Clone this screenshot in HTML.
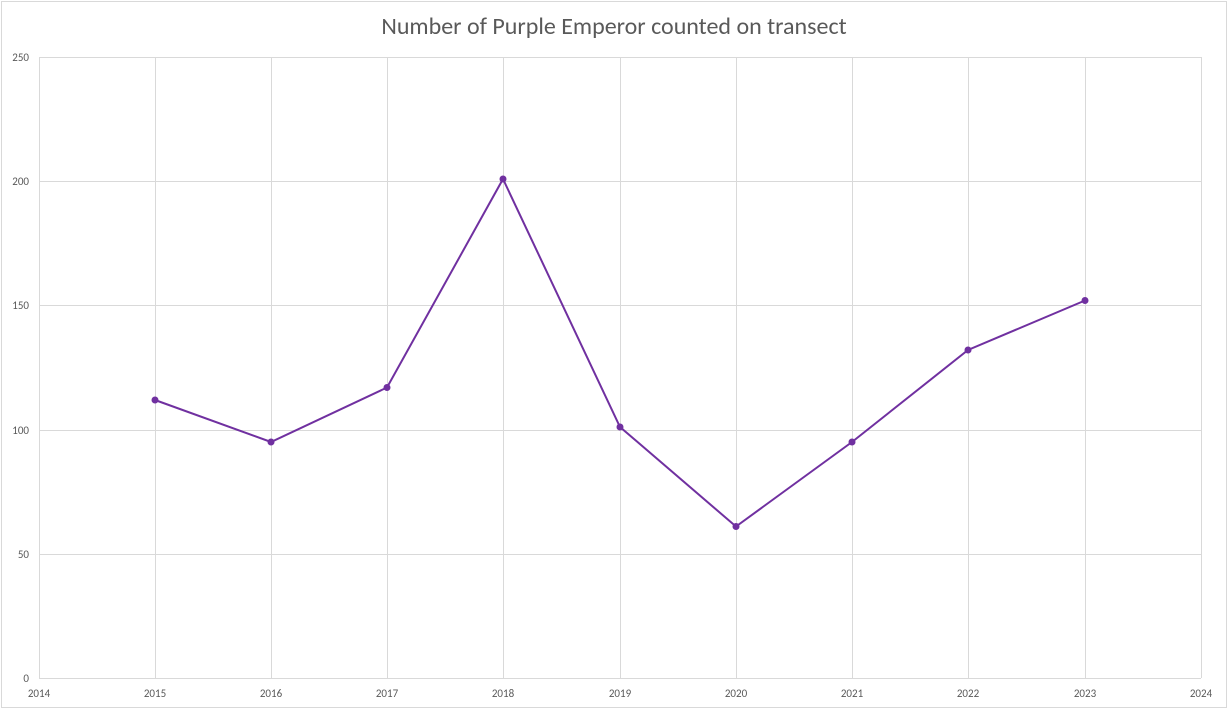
<!DOCTYPE html>
<html><head><style>body{margin:0;background:#fff}</style></head><body>
<svg width="1228" height="710" xmlns="http://www.w3.org/2000/svg" font-family="Calibri, 'Liberation Sans', sans-serif">
<rect x="1.5" y="1.5" width="1225" height="706" fill="#fff" stroke="#d9d9d9"/>
<text x="614" y="34" text-anchor="middle" font-size="24" fill="#595959">Number of Purple Emperor counted on transect</text>
<g stroke="#d9d9d9" stroke-width="1">
<line x1="39" y1="57.5" x2="1201" y2="57.5"/>
<line x1="39" y1="181.5" x2="1201" y2="181.5"/>
<line x1="39" y1="305.5" x2="1201" y2="305.5"/>
<line x1="39" y1="430.5" x2="1201" y2="430.5"/>
<line x1="39" y1="554.5" x2="1201" y2="554.5"/>
<line x1="39" y1="678.5" x2="1201" y2="678.5"/>
<line x1="39.5" y1="57" x2="39.5" y2="678"/>
<line x1="155.5" y1="57" x2="155.5" y2="678"/>
<line x1="271.5" y1="57" x2="271.5" y2="678"/>
<line x1="387.5" y1="57" x2="387.5" y2="678"/>
<line x1="503.5" y1="57" x2="503.5" y2="678"/>
<line x1="620.5" y1="57" x2="620.5" y2="678"/>
<line x1="736.5" y1="57" x2="736.5" y2="678"/>
<line x1="852.5" y1="57" x2="852.5" y2="678"/>
<line x1="968.5" y1="57" x2="968.5" y2="678"/>
<line x1="1085.5" y1="57" x2="1085.5" y2="678"/>
<line x1="1201.5" y1="57" x2="1201.5" y2="678"/>
</g>
<g font-size="11" fill="#595959" text-anchor="end">
<text x="29" y="61">250</text><text x="29" y="185">200</text><text x="29" y="309">150</text>
<text x="29" y="434">100</text><text x="29" y="558">50</text><text x="29" y="682">0</text>
</g>
<g font-size="11" fill="#595959" text-anchor="middle">
<text x="39" y="697">2014</text><text x="155" y="697">2015</text><text x="271" y="697">2016</text>
<text x="387" y="697">2017</text><text x="503" y="697">2018</text><text x="620" y="697">2019</text>
<text x="736" y="697">2020</text><text x="852" y="697">2021</text><text x="968" y="697">2022</text>
<text x="1085" y="697">2023</text><text x="1201" y="697">2024</text>
</g>
<polyline fill="none" stroke="#7030a0" stroke-width="2" points="155,400 271,442 387,387.5 503,179 620,427 736,526.5 852,442 968,350 1085,300.5"/>
<g fill="#7030a0">
<circle cx="155" cy="400" r="3.5"/><circle cx="271" cy="442" r="3.5"/><circle cx="387" cy="387.5" r="3.5"/>
<circle cx="503" cy="179" r="3.5"/><circle cx="620" cy="427" r="3.5"/><circle cx="736" cy="526.5" r="3.5"/>
<circle cx="852" cy="442" r="3.5"/><circle cx="968" cy="350" r="3.5"/><circle cx="1085" cy="300.5" r="3.5"/>
</g>
</svg>
</body></html>
